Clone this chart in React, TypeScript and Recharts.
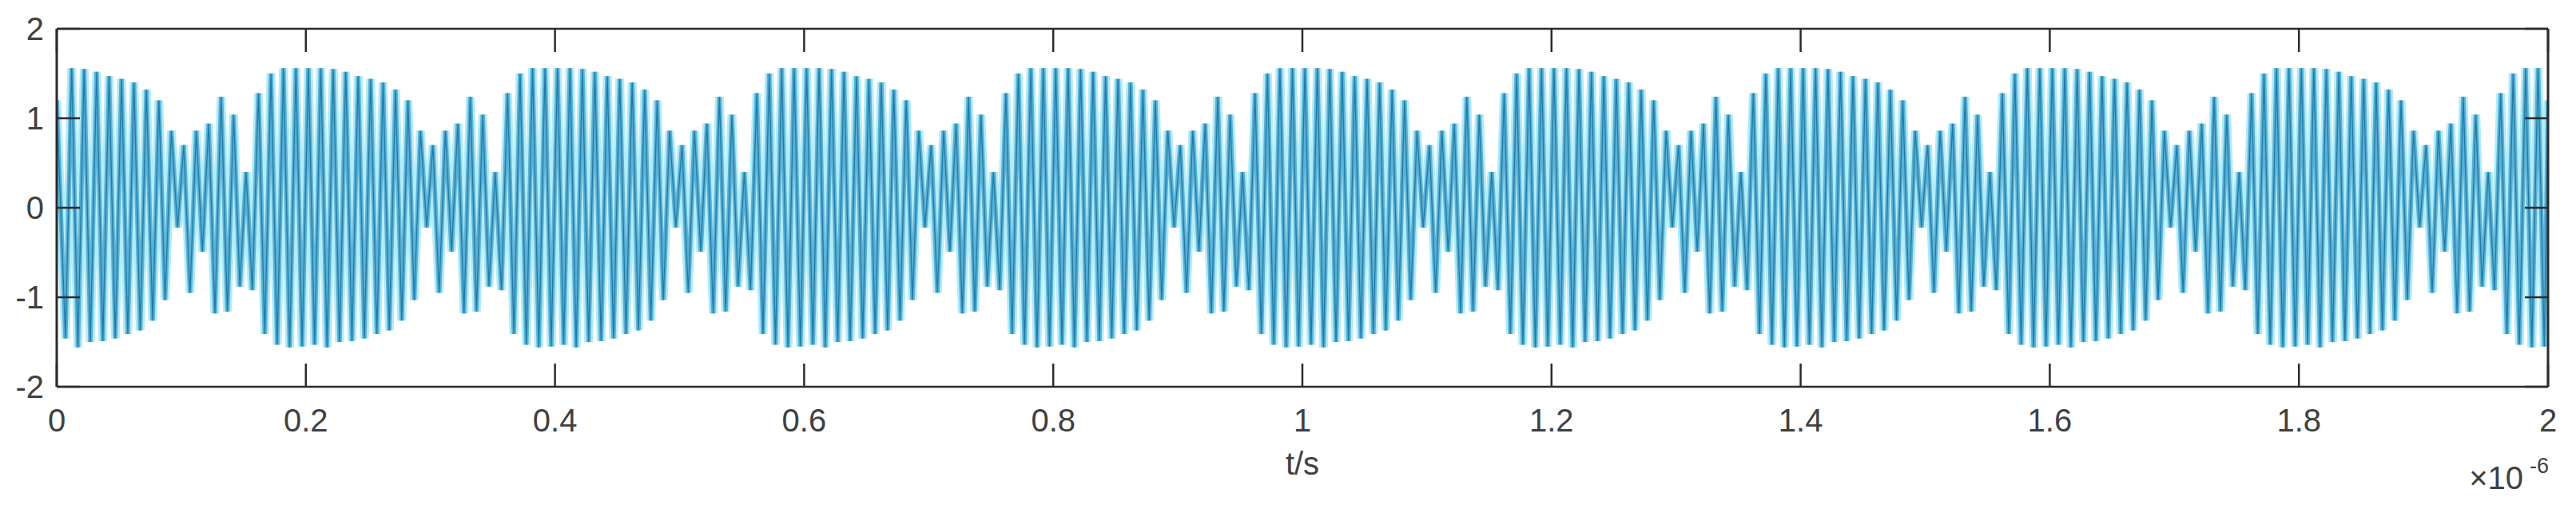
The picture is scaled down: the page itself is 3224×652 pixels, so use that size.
import React from 'react';
import { LineChart, Line, XAxis, YAxis, Label } from 'recharts';

// x axis (time, in units of 1e-6 s)
const xTicks = [0, 0.2, 0.4, 0.6, 0.8, 1, 1.2, 1.4, 1.6, 1.8, 2];
const xTickLabels = ['0', '0.2', '0.4', '0.6', '0.8', '1', '1.2', '1.4', '1.6', '1.8', '2'];
const yTicks = [-2, -1, 0, 1, 2];
const yTickLabels = ['-2', '-1', '0', '1', '2'];
const xTitle = 't/s';
const xExponentBase = '\u00d710';
const xExponent = '-6';

// signal: successive trough / crest values
// (one value every half carrier cycle, 0.005e-6 s apart, first at 0.007e-6 s)
const startValue = 1.2;
const endValue = 1.2;
const period01 = [-1.46, 1.56, -1.56, 1.55, -1.5, 1.52, -1.49, 1.47, -1.46, 1.44, -1.41, 1.4, -1.37, 1.32, -1.26, 1.2, -1.03, 0.86, -0.22, 0.7, -0.95, 0.86, -0.49, 0.94, -1.18, 1.24, -1.16, 1.04, -0.88, 0.4, -0.92, 1.28, -1.41, 1.5, -1.53, 1.56, -1.56, 1.56, -1.55, 1.56];
const period02 = [-1.53, 1.56, -1.56, 1.55, -1.5, 1.52, -1.49, 1.47, -1.46, 1.44, -1.41, 1.4, -1.37, 1.32, -1.26, 1.2, -1.03, 0.86, -0.22, 0.7, -0.95, 0.86, -0.49, 0.94, -1.18, 1.24, -1.16, 1.04, -0.88, 0.4, -0.92, 1.28, -1.41, 1.5, -1.53, 1.56, -1.56, 1.56, -1.55, 1.56];
const period03 = [-1.53, 1.56, -1.56, 1.55, -1.5, 1.52, -1.49, 1.47, -1.46, 1.44, -1.41, 1.4, -1.37, 1.32, -1.26, 1.2, -1.03, 0.86, -0.22, 0.7, -0.95, 0.86, -0.49, 0.94, -1.18, 1.24, -1.16, 1.04, -0.88, 0.4, -0.92, 1.28, -1.41, 1.5, -1.53, 1.56, -1.56, 1.56, -1.55, 1.56];
const period04 = [-1.53, 1.56, -1.56, 1.55, -1.5, 1.52, -1.49, 1.47, -1.46, 1.44, -1.41, 1.4, -1.37, 1.32, -1.26, 1.2, -1.03, 0.86, -0.22, 0.7, -0.95, 0.86, -0.49, 0.94, -1.18, 1.24, -1.16, 1.04, -0.88, 0.4, -0.92, 1.28, -1.41, 1.5, -1.53, 1.56, -1.56, 1.56, -1.55, 1.56];
const period05 = [-1.53, 1.56, -1.56, 1.55, -1.5, 1.52, -1.49, 1.47, -1.46, 1.44, -1.41, 1.4, -1.37, 1.32, -1.26, 1.2, -1.03, 0.86, -0.22, 0.7, -0.95, 0.86, -0.49, 0.94, -1.18, 1.24, -1.16, 1.04, -0.88, 0.4, -0.92, 1.28, -1.41, 1.5, -1.53, 1.56, -1.56, 1.56, -1.55, 1.56];
const period06 = [-1.53, 1.56, -1.56, 1.55, -1.5, 1.52, -1.49, 1.47, -1.46, 1.44, -1.41, 1.4, -1.37, 1.32, -1.26, 1.2, -1.03, 0.86, -0.22, 0.7, -0.95, 0.86, -0.49, 0.94, -1.18, 1.24, -1.16, 1.04, -0.88, 0.4, -0.92, 1.28, -1.41, 1.5, -1.53, 1.56, -1.56, 1.56, -1.55, 1.56];
const period07 = [-1.53, 1.56, -1.56, 1.55, -1.5, 1.52, -1.49, 1.47, -1.46, 1.44, -1.41, 1.4, -1.37, 1.32, -1.26, 1.2, -1.03, 0.86, -0.22, 0.7, -0.95, 0.86, -0.49, 0.94, -1.18, 1.24, -1.16, 1.04, -0.88, 0.4, -0.92, 1.28, -1.41, 1.5, -1.53, 1.56, -1.56, 1.56, -1.55, 1.56];
const period08 = [-1.53, 1.56, -1.56, 1.55, -1.5, 1.52, -1.49, 1.47, -1.46, 1.44, -1.41, 1.4, -1.37, 1.32, -1.26, 1.2, -1.03, 0.86, -0.22, 0.7, -0.95, 0.86, -0.49, 0.94, -1.18, 1.24, -1.16, 1.04, -0.88, 0.4, -0.92, 1.28, -1.41, 1.5, -1.53, 1.56, -1.56, 1.56, -1.55, 1.56];
const period09 = [-1.53, 1.56, -1.56, 1.55, -1.5, 1.52, -1.49, 1.47, -1.46, 1.44, -1.41, 1.4, -1.37, 1.32, -1.26, 1.2, -1.03, 0.86, -0.22, 0.7, -0.95, 0.86, -0.49, 0.94, -1.18, 1.24, -1.16, 1.04, -0.88, 0.4, -0.92, 1.28, -1.41, 1.5, -1.53, 1.56, -1.56, 1.56, -1.55, 1.56];
const period10 = [-1.53, 1.56, -1.56, 1.55, -1.5, 1.52, -1.49, 1.47, -1.46, 1.44, -1.41, 1.4, -1.37, 1.32, -1.26, 1.2, -1.03, 0.86, -0.22, 0.7, -0.95, 0.86, -0.49, 0.94, -1.18, 1.24, -1.16, 1.04, -0.88, 0.4, -0.92, 1.28, -1.41, 1.5, -1.53, 1.56, -1.56, 1.56, -1.55];

const firstSampleTime = 0.007;
const sampleStep = 0.005;
const endTime = 2;

const extrema = [
  ...period01, ...period02, ...period03, ...period04, ...period05,
  ...period06, ...period07, ...period08, ...period09, ...period10,
];
const data = [
  { t: 0, v: startValue },
  ...extrema.map((v, i) => ({ t: firstSampleTime + sampleStep * i, v })),
  { t: endTime, v: endValue },
];

const FONT = '"Liberation Sans", Arial, Helvetica, sans-serif';
const AXIS_COLOR = '#2b2b2b';
const TEXT_COLOR = '#404040';
const TICK_LEN = 29;
const FONT_SIZE = 40;

const BottomTick = (props: any) => {
  const { x, y, payload } = props;
  const label = xTickLabels[xTicks.indexOf(payload.value)];
  return (
    <g>
      <line x1={x} y1={y} x2={x} y2={y - TICK_LEN} stroke={AXIS_COLOR} strokeWidth={2.5} />
      <text x={x} y={y + 56} textAnchor="middle" fontSize={FONT_SIZE} fontFamily={FONT} fill={TEXT_COLOR}>
        {label}
      </text>
    </g>
  );
};

const TopTick = (props: any) => {
  const { x, y } = props;
  return <line x1={x} y1={y} x2={x} y2={y + TICK_LEN} stroke={AXIS_COLOR} strokeWidth={2.5} />;
};

const LeftTick = (props: any) => {
  const { x, y, payload } = props;
  const label = yTickLabels[yTicks.indexOf(payload.value)];
  return (
    <g>
      <line x1={x} y1={y} x2={x + TICK_LEN} y2={y} stroke={AXIS_COLOR} strokeWidth={2.5} />
      <text x={x - 16} y={y + 14} textAnchor="end" fontSize={FONT_SIZE} fontFamily={FONT} fill={TEXT_COLOR}>
        {label}
      </text>
    </g>
  );
};

const RightTick = (props: any) => {
  const { x, y } = props;
  return <line x1={x} y1={y} x2={x - TICK_LEN} y2={y} stroke={AXIS_COLOR} strokeWidth={2.5} />;
};

const XTitle = (props: any) => {
  const vb = props.viewBox || {};
  const cx = vb.x + vb.width / 2;
  const right = vb.x + vb.width;
  return (
    <g>
      <text x={cx} y={vb.y + 110} textAnchor="middle" fontSize={FONT_SIZE} fontFamily={FONT} fill={TEXT_COLOR}>
        {xTitle}
      </text>
      <text x={right - 31} y={vb.y + 128} textAnchor="end" fontSize={FONT_SIZE} fontFamily={FONT} fill={TEXT_COLOR}>
        {xExponentBase}
      </text>
      <text x={right - 23} y={vb.y + 108} textAnchor="start" fontSize={27} fontFamily={FONT} fill={TEXT_COLOR}>
        {xExponent}
      </text>
    </g>
  );
};

export default function App() {
  return (
    <div style={{ width: 3208, height: 636, background: '#ffffff' }}>
      <LineChart
        width={3208}
        height={636}
        data={data}
        margin={{ top: 27, right: 26, bottom: 100, left: 0 }}
      >
        <XAxis
          xAxisId="bottom"
          dataKey="t"
          type="number"
          domain={[0, 2]}
          ticks={xTicks}
          interval={0}
          height={60}
          tickSize={0}
          tickMargin={0}
          tickLine={false}
          axisLine={{ stroke: AXIS_COLOR, strokeWidth: 2.5 }}
          tick={<BottomTick />}
          allowDataOverflow
        >
          <Label content={<XTitle />} />
        </XAxis>
        <XAxis
          xAxisId="top"
          orientation="top"
          dataKey="t"
          type="number"
          domain={[0, 2]}
          ticks={xTicks}
          interval={0}
          height={1}
          tickSize={0}
          tickMargin={0}
          tickLine={false}
          axisLine={{ stroke: AXIS_COLOR, strokeWidth: 2.5 }}
          tick={<TopTick />}
          allowDataOverflow
        />
        <YAxis
          yAxisId="left"
          type="number"
          domain={[-2, 2]}
          ticks={yTicks}
          interval={0}
          width={63}
          tickSize={0}
          tickMargin={0}
          tickLine={false}
          axisLine={{ stroke: AXIS_COLOR, strokeWidth: 3 }}
          tick={<LeftTick />}
          allowDataOverflow
        />
        <YAxis
          yAxisId="right"
          orientation="right"
          type="number"
          domain={[-2, 2]}
          ticks={yTicks}
          interval={0}
          width={1}
          tickSize={0}
          tickMargin={0}
          tickLine={false}
          axisLine={{ stroke: AXIS_COLOR, strokeWidth: 3 }}
          tick={<RightTick />}
          allowDataOverflow
        />
        <Line
          xAxisId="bottom"
          yAxisId="left"
          type="linear"
          dataKey="v"
          stroke="#b0ecfa"
          strokeWidth={11}
          dot={false}
          activeDot={false}
          isAnimationActive={false}
        />
        <Line
          xAxisId="bottom"
          yAxisId="left"
          type="linear"
          dataKey="v"
          stroke="#5cb0d4"
          strokeWidth={5.5}
          dot={false}
          activeDot={false}
          isAnimationActive={false}
        />
        <Line
          xAxisId="bottom"
          yAxisId="left"
          type="linear"
          dataKey="v"
          stroke="#1f7ba5"
          strokeWidth={1.3}
          dot={false}
          activeDot={false}
          isAnimationActive={false}
        />
      </LineChart>
    </div>
  );
}
